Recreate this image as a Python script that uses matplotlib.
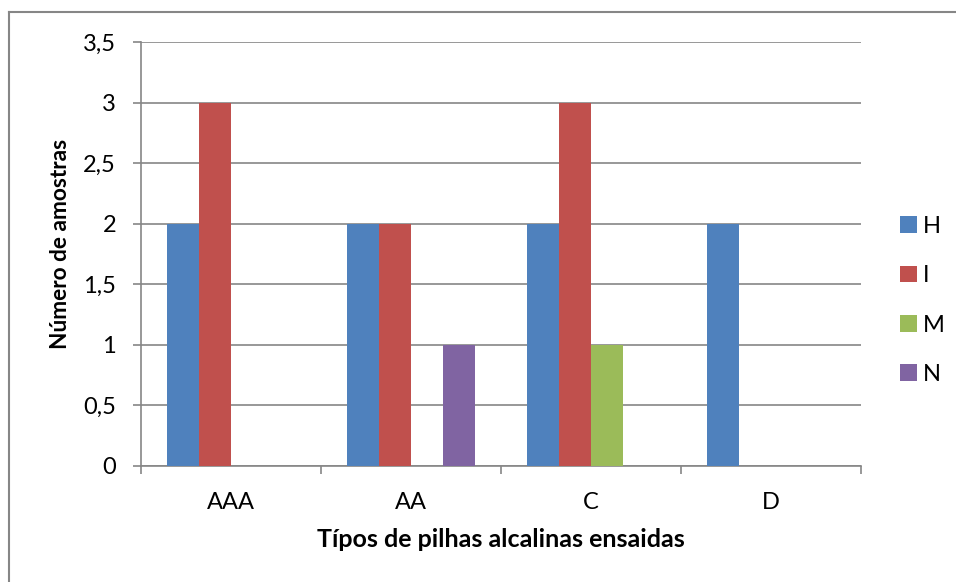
import numpy as np
import matplotlib
matplotlib.use("Agg")
import matplotlib.pyplot as plt
from matplotlib.lines import Line2D

categories = ['AAA', 'AA', 'C', 'D']
series = ['H', 'I', 'M', 'N']
H = [2, 2, 2, 2]
I = [3, 2, 3, 0]
M = [0, 0, 1, 0]
N = [0, 1, 0, 0]
colors = ['#4F81BD', '#C0504D', '#9BBB59', '#8064A2']
yticks = [0, 0.5, 1, 1.5, 2, 2.5, 3, 3.5]
yticklabels = ['0', '0,5', '1', '1,5', '2', '2,5', '3', '3,5']

plt.rcParams['font.family'] = ['Lato', 'DejaVu Sans']

W, Hpx = 956, 582
fig = plt.figure(figsize=(W / 100, Hpx / 100), dpi=100)
ax = fig.add_axes([141 / W, 1 - 466 / Hpx, 720 / W, 424 / Hpx])

x = np.arange(len(categories))
bw = 32 / 180
data = [H, I, M, N]
for k, (name, vals) in enumerate(zip(series, data)):
    ax.bar(x + (k - 1.5) * bw, vals, bw, color=colors[k], label=name, zorder=3)

ax.set_xlim(-0.5, len(categories) - 0.5)
ax.set_ylim(0, 3.5)
ax.set_yticks(yticks)
ax.set_yticklabels(yticklabels)
ax.set_xticks(x)
ax.set_xticklabels(categories)
ax.set_xticks(np.arange(len(categories) + 1) - 0.5, minor=True)
ax.tick_params(axis='x', which='major', length=0, pad=19, labelsize=17)
ax.tick_params(axis='x', which='minor', length=6, color='#868686', width=1.2)
ax.tick_params(axis='y', length=6, color='#868686', width=1.2, pad=12, labelsize=17)
ax.grid(axis='y', color='#868686', linewidth=1.2, zorder=0)
for s in ['top', 'right']:
    ax.spines[s].set_visible(False)
for s in ['left', 'bottom']:
    ax.spines[s].set_color('#868686')
    ax.spines[s].set_linewidth(1.2)

ax.set_ylabel('Número de amostras', fontsize=16.3, fontweight='bold')
ax.yaxis.set_label_coords((71 - 141) / 720, 1 - (244 - 42) / 424)
ax.set_xlabel('Típos de pilhas alcalinas ensaidas', fontsize=18, fontweight='bold')
ax.xaxis.set_label_coords(0.5, -(528 - 466) / 424)

ax.legend(loc='center left', bbox_to_anchor=((900 - 141) / 720, 1 - (300.5 - 42) / 424),
          frameon=False, fontsize=17, handlelength=0.7, handleheight=0.7,
          handletextpad=0.25, labelspacing=1.2, borderaxespad=0, borderpad=0)

fig.add_artist(Line2D([9 / W, 9 / W], [0, 1 - 12 / Hpx], transform=fig.transFigure,
                      color='#868686', linewidth=1.5))
fig.add_artist(Line2D([9 / W, 1], [1 - 12 / Hpx, 1 - 12 / Hpx], transform=fig.transFigure,
                      color='#868686', linewidth=1.5))

fig.savefig('out.png', dpi=100)
